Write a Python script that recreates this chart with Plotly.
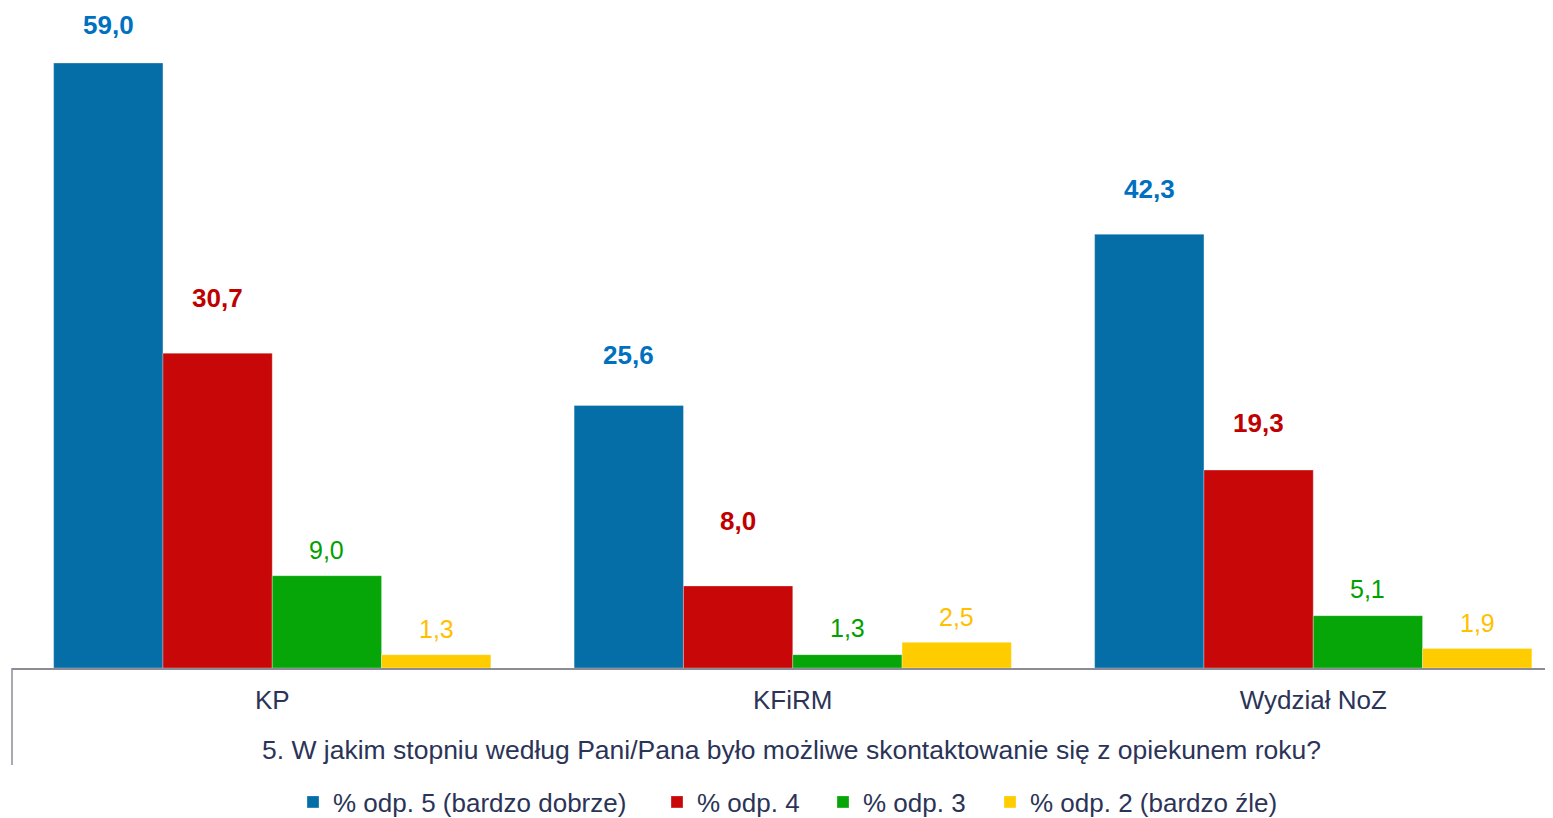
import plotly.graph_objects as go

categories = ["KP", "KFiRM", "Wydział NoZ"]
series_names = ["% odp. 5 (bardzo dobrze)", "% odp. 4", "% odp. 3", "% odp. 2 (bardzo źle)"]
odp5 = [59.0, 25.6, 42.3]
odp4 = [30.7, 8.0, 19.3]
odp3 = [9.0, 1.3, 5.1]
odp2 = [1.3, 2.5, 1.9]
question = "5. W jakim stopniu według Pani/Pana było możliwe skontaktowanie się z opiekunem roku?"

values = [odp5, odp4, odp3, odp2]
bar_colors = ["#066EA6", "#C80808", "#06A508", "#FFCC00"]
label_colors = ["#0070C0", "#C00000", "#00A000", "#FFC000"]
label_bold = [True, True, False, False]
# label offsets above bar tops (px)
label_offsets = [[38, 51, 45], [55, 65, 47], [26, 27, 27], [26, 25, 26]]
# page x where each legend entry's text begins
legend_text_x = [333, 697, 863, 1030]

FONT = "Liberation Sans, Arial, sans-serif"
TEXT = "#2B3457"

# the page body adds an 8px offset; figure coords = page coords - 8
ZERO_Y = 660          # zero line (figure px)
PX_PER_UNIT = 10.254
GROUP_PX = 520.5
PLOT_LEFT = 4
FIG_W, FIG_H = 1545, 810
PLOT_W = FIG_W - PLOT_LEFT


def page_to_paper_x(p):
    return (p - 8 - PLOT_LEFT) / PLOT_W


fig = go.Figure()
n = len(values)
group_w = 0.84
bw = group_w / n
legend_names = ["legend", "legend2", "legend3", "legend4"]
for i, (name, vals) in enumerate(zip(series_names, values)):
    fig.add_trace(go.Bar(
        x=categories, y=vals, name=name,
        marker=dict(color=bar_colors[i], line=dict(color="rgba(255,255,255,0.5)", width=0.6)),
        offsetgroup=str(i), legend=legend_names[i],
    ))

annotations = []
for i, vals in enumerate(values):
    for j, v in enumerate(vals):
        xpos = j - group_w / 2 + bw * (i + 0.5)
        txt = f"{v:.1f}".replace(".", ",")
        if label_bold[i]:
            txt = f"<b>{txt}</b>"
        annotations.append(dict(
            x=xpos, y=v, xref="x", yref="y", text=txt, showarrow=False,
            yanchor="middle", yshift=label_offsets[i][j],
            font=dict(family=FONT, size=26 if label_bold[i] else 25, color=label_colors[i]),
        ))

annotations.append(dict(
    x=(783.5 - PLOT_LEFT) / PLOT_W, y=-(742 - ZERO_Y) / ZERO_Y, xref="paper", yref="paper",
    text=question, showarrow=False, xanchor="center", yanchor="middle",
    font=dict(family=FONT, size=26.5, color=TEXT),
))

legend_layout = {}
for i, ln in enumerate(legend_names):
    legend_layout[ln] = dict(
        orientation="h", x=page_to_paper_x(legend_text_x[i] - 40), xanchor="left",
        y=-(794 - ZERO_Y) / ZERO_Y, yanchor="middle",
        font=dict(family=FONT, size=26, color=TEXT), itemwidth=30,
        bgcolor="rgba(0,0,0,0)",
    )

fig.update_layout(
    width=FIG_W, height=FIG_H,
    margin=dict(l=PLOT_LEFT, r=0, t=0, b=FIG_H - ZERO_Y, autoexpand=False),
    paper_bgcolor="white", plot_bgcolor="white",
    barmode="group", bargap=0.16, bargroupgap=0,
    showlegend=True,
    annotations=annotations,
    shapes=[dict(type="line", xref="paper", yref="paper", x0=0, x1=0,
                 y0=0, y1=-(757 - ZERO_Y) / ZERO_Y, line=dict(color="#8C8C99", width=1.5))],
    **legend_layout,
)
fig.update_xaxes(
    range=[-0.5, -0.5 + PLOT_W / GROUP_PX], showgrid=False,
    showline=True, linecolor="#8C8C99", linewidth=2,
    ticks="", tickfont=dict(family=FONT, size=26, color=TEXT), ticklabelstandoff=8,
)
fig.update_yaxes(range=[0, ZERO_Y / PX_PER_UNIT], showgrid=False, showticklabels=False,
                 zeroline=False, showline=False)

fig.write_html("out.html")
